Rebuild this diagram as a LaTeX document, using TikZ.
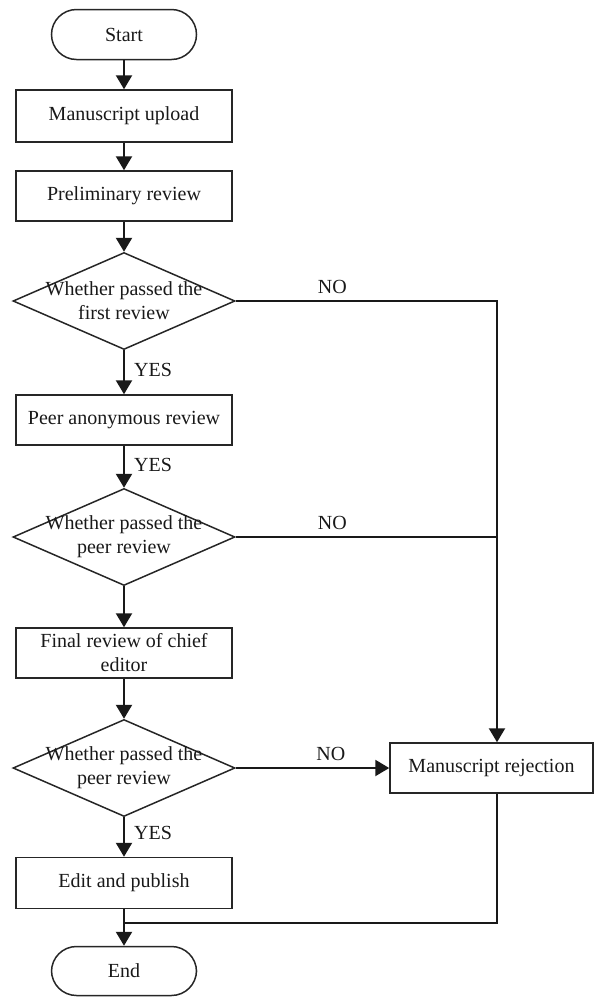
\documentclass[tikz,border=0pt]{standalone}
\usepackage{fontspec}
\setmainfont{Liberation Serif}
\usetikzlibrary{arrows.meta,shapes.geometric}
\begin{document}
\begin{tikzpicture}[x=1pt,y=-1pt,
  font=\fontsize{20}{24}\selectfont,
  box/.style={draw=black!85,line width=1.5pt,minimum width=216pt,minimum height=50pt,inner sep=0pt,align=center,text=black!90},
  term/.style={draw=black!85,line width=1.5pt,minimum width=145pt,minimum height=50pt,rounded corners=25pt,inner sep=0pt,text=black!90},
  dec/.style={diamond,draw=black!85,line width=1.5pt,minimum width=222pt,minimum height=97pt,inner sep=0pt},
  dtext/.style={align=center,inner sep=0pt,text=black!90},
  conn/.style={draw=black!90,line width=2.2pt},
  arr/.style={conn,-{Triangle[width=16pt,length=14pt]}},
  lab/.style={inner sep=0pt,text=black!90}]
\useasboundingbox (0,0) rectangle (594,997);
\node[term] (start) at (124,34.5) {Start};
\node[box,minimum height=52pt] (up) at (124,116) {Manuscript upload};
\node[box] (pre) at (124,196) {Preliminary review};
\node[dec] (d1) at (124,301) {};
\node[dtext] (t1) at (d1) {Whether passed the\\first review};
\node[box] (peer) at (124,420) {Peer anonymous review};
\node[dec] (d2) at (124,537) {};
\node[dtext] (t2) at (d2) {Whether passed the\\peer review};
\node[box] (fin) at (124,653) {Final review of chief\\editor};
\node[dec] (d3) at (124,768) {};
\node[dtext] (t3) at (d3) {Whether passed the\\peer review};
\node[box,minimum height=51pt] (edit) at (124,883) {Edit and publish};
\node[term,minimum height=49pt] (end) at (124,971) {End};
\node[box,minimum width=203pt] (rej) at (491.5,768) {Manuscript rejection};
\coordinate (c1) at (497,301);
\coordinate (j) at (124,923);

\draw[arr] (start) -- (up);
\draw[arr] (up) -- (pre);
\draw[arr] (pre) -- (d1);
\draw[arr] (d1) -- (peer) node[lab,pos=0.45,anchor=west,xshift=9pt] {YES};
\draw[arr] (peer) -- (d2) node[lab,pos=0.45,anchor=west,xshift=9pt] {YES};
\draw[arr] (d2) -- (fin);
\draw[arr] (fin) -- (d3);
\draw[arr] (d3) -- (edit) node[lab,pos=0.4,anchor=west,xshift=9pt] {YES};
\draw[arr] (edit) -- (end);
\draw[arr] (d1.east) -- (c1) node[lab,pos=0.37,above=6pt] {NO} -- (c1 |- rej.north);
\draw[conn] (d2.east) -- (d2.east -| c1) node[lab,pos=0.37,above=6pt] {NO};
\draw[arr] (d3.east) -- (rej.west) node[lab,pos=0.62,above=6pt] {NO};
\draw[conn] (c1 |- rej.south) -- (c1 |- j) -- (j);
\end{tikzpicture}
\end{document}
